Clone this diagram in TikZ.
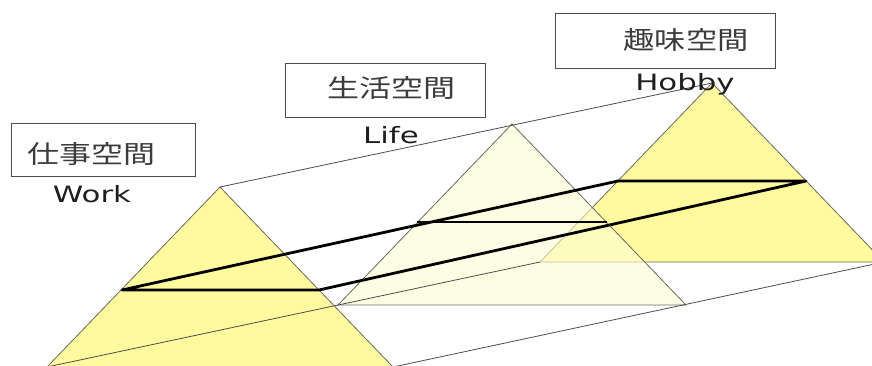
\documentclass[tikz,border=0pt]{standalone}
\usepackage{fontspec}
\newfontfamily\cjk{Noto Sans CJK JP}
\newfontfamily\lat{DejaVu Sans}
\definecolor{yel}{RGB}{255,250,158}
\definecolor{pale}{RGB}{252,252,210}
\definecolor{edge}{RGB}{105,105,95}
\definecolor{txt}{RGB}{30,30,30}
\definecolor{cjktxt}{RGB}{60,60,60}
\begin{document}
\begin{tikzpicture}[x=1pt,y=-1pt,
  tri/.style={draw=edge, line width=0.8pt, line join=miter},
  thinline/.style={draw=black!70, line width=0.8pt},
  thickline/.style={draw=black, line width=2.8pt, line cap=round, line join=round},
  midline/.style={draw=black, line width=1.8pt},
  lbox/.style={draw=black!70, line width=0.9pt, inner sep=0pt},
  cjklabel/.style={text=cjktxt, inner sep=0pt, font=\cjk\fontsize{25}{30}\selectfont},
  latlabel/.style={text=txt, inner sep=0pt, anchor=base, font=\lat\fontsize{22.5}{26}\selectfont}]
\useasboundingbox (0,0) rectangle (872,365);
\begin{scope}
\clip (0,0) rectangle (872,365);
% triangle corners
\coordinate (wa) at (220,187);
\coordinate (wl) at (47,367);
\coordinate (wr) at (393,367);
\coordinate (la) at (512,124);
\coordinate (ll) at (338,305);
\coordinate (lr) at (686,305);
\coordinate (ha) at (712,83);
\coordinate (hl) at (540,262);
\coordinate (hr) at (884,262);
% chord points
\coordinate (A) at (122,290);
\coordinate (B) at (319,290);
\coordinate (C) at (618,181);
\coordinate (D) at (806,181);
\coordinate (E) at (417,222);
\coordinate (F) at (607,222);
% triangles
\filldraw[tri, fill=yel] (wa) -- (wl) -- (wr) -- cycle;
\filldraw[tri, fill=yel] (ha) -- (hl) -- (hr) -- cycle;
\fill[pale, fill opacity=0.6] (la) -- (ll) -- (lr) -- cycle;
\draw[tri] (la) -- (ll) -- (lr) -- cycle;
% thin connecting lines
\draw[thinline] (wa) -- (ha);
\draw[thinline] (wl) -- (hl);
\draw[thinline] (wr) -- (hr);
% thick lines
\draw[thickline] (A) -- (B) -- (D) -- (C) -- cycle;
\draw[midline] (E) -- (F);
\end{scope}
% labels
\node[lbox, minimum width=184pt, minimum height=53pt] (b1) at (103,149.5) {};
\node[cjklabel] (t1) at (91,154) {\scalebox{1.28}[1]{仕事空間}};
\node[latlabel] (w1) at (92,202) {\scalebox{1.37}[1]{Work}};
\node[lbox, minimum width=200pt, minimum height=54pt] (b2) at (385,90) {};
\node[cjklabel] (t2) at (391,88) {\scalebox{1.28}[1]{生活空間}};
\node[latlabel] (w2) at (391,143) {\scalebox{1.37}[1]{Life}};
\node[lbox, minimum width=220pt, minimum height=55pt] (b3) at (665,40.5) {};
\node[cjklabel] (t3) at (686,40) {\scalebox{1.25}[1]{趣味空間}};
\node[latlabel] (w3) at (685,90) {\scalebox{1.37}[1]{Hobby}};
\end{tikzpicture}
\end{document}
